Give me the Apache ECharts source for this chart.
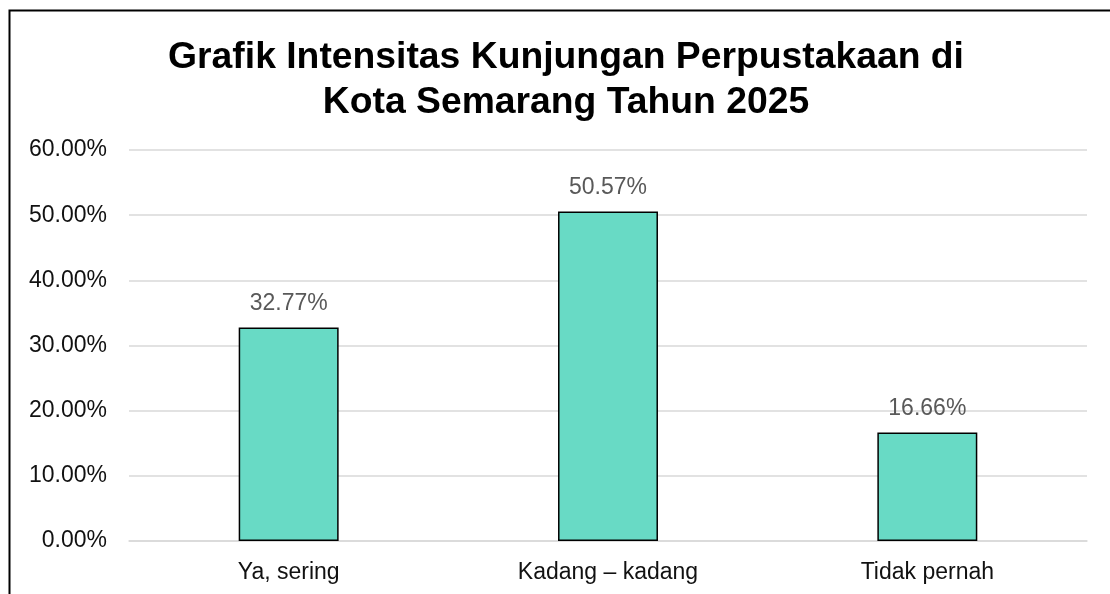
<!DOCTYPE html>
<html>
<head>
<meta charset="utf-8">
<title>Grafik Intensitas Kunjungan Perpustakaan</title>
<script src="https://cdn.jsdelivr.net/npm/echarts@6/dist/echarts.min.js"></script>
<style>
    html, body { margin: 0; padding: 0; background: #fff; }
    #main { width: 1110px; height: 594px; }
</style>
</head>
<body>
<div id="main"></div>
<script>
// data
var categories = ['Ya, sering', 'Kadang \u2013 kadang', 'Tidak pernah'];
var values = [32.77, 50.57, 16.66];
var yTicks = [0, 10, 20, 30, 40, 50, 60];

var FONT = '"Liberation Sans", Arial, sans-serif';

var myChart = echarts.init(document.getElementById('main'));
var option = {
    backgroundColor: '#fff',
    animation: false,
    title: {
        text: 'Grafik Intensitas Kunjungan Perpustakaan di\nKota Semarang Tahun 2025',
        left: 561,
        top: 30,
        textAlign: 'center',
        textStyle: {
            fontFamily: FONT,
            fontSize: 37.3,
            fontWeight: 'bold',
            color: '#000',
            lineHeight: 45
        }
    },
    // frame of the chart area (cut at right and bottom)
    graphic: [{
        type: 'polyline',
        shape: { points: [[9.5, 594], [9.5, 10.5], [1110, 10.5]] },
        style: { stroke: '#000', lineWidth: 2, fill: null },
        silent: true
    }],
    grid: {
        left: 129,
        right: 23,
        top: 150,
        bottom: 53
    },
    xAxis: {
        type: 'category',
        data: categories,
        axisLine: { show: true, lineStyle: { color: '#d9d9d9', width: 1.5 } },
        axisTick: { show: false },
        axisLabel: {
            fontFamily: FONT,
            fontSize: 23,
            color: '#111',
            margin: 20
        }
    },
    yAxis: {
        type: 'value',
        min: yTicks[0],
        max: yTicks[yTicks.length - 1],
        interval: 10,
        axisLine: { show: false },
        axisTick: { show: false },
        splitLine: { lineStyle: { color: '#d9d9d9', width: 1.5 } },
        axisLabel: {
            fontFamily: FONT,
            fontSize: 23,
            color: '#111',
            margin: 22,
            formatter: function (v) { return v.toFixed(2) + '%'; }
        }
    },
    series: [{
        type: 'bar',
        data: values,
        barWidth: '31.3%',
        itemStyle: {
            color: '#68dac5',
            borderColor: '#000',
            borderWidth: 1.5
        },
        label: {
            show: true,
            position: 'top',
            distance: 12,
            fontFamily: FONT,
            fontSize: 23,
            color: '#595959',
            formatter: function (p) { return p.value.toFixed(2) + '%'; }
        }
    }]
};
myChart.setOption(option);
</script>
</body>
</html>
